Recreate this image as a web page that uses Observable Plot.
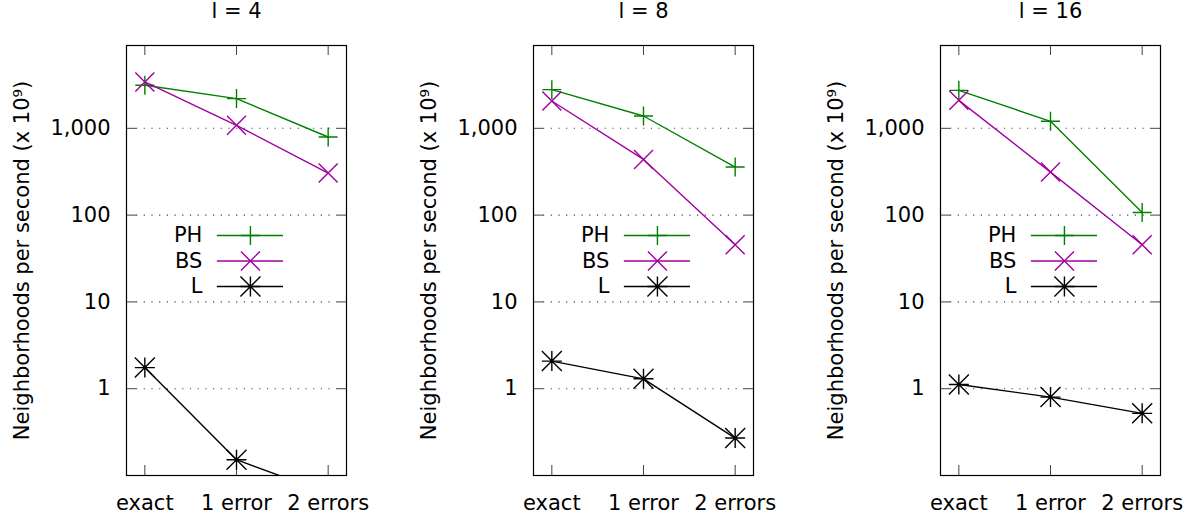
<!DOCTYPE html>
<html><head><meta charset="utf-8">
<script src="https://cdn.jsdelivr.net/npm/d3@7"></script>
<script src="https://cdn.jsdelivr.net/npm/@observablehq/plot@0.6"></script>
<style>
html,body{margin:0;padding:0;background:#fff;overflow:hidden}
#wrap{position:relative;width:1191px;height:518px;overflow:hidden}
#wrap > .panel{position:absolute;top:0}
</style></head><body><div id="wrap"></div>
<script>
const categories = ["exact", "1 error", "2 errors"];
const panelL = [4, 8, 16];
const seriesNames = ["PH", "BS", "L"];
const seriesColors = ["#008000", "#a000a0", "#000000"];
// values per panel (l = 4, 8, 16), per category
const PH = [[3130, 2200, 794], [2790, 1387, 358], [2740, 1205, 107]];
const BS = [[3420, 1083, 305], [2065, 438, 45.5], [2100, 313, 45.5]];
const Lv = [[1.75, 0.152, 0.062], [2.08, 1.30, 0.27], [1.12, 0.80, 0.52]];
const yTicks = [1, 10, 100, 1000];
const yDomain = [0.1, 9000];
const yLabel = "Neighborhoods per second (x 10⁹)";

function sym(fn) { return {draw(ctx, size) { fn(ctx, Math.sqrt(size / Math.PI)); }}; }
const plusSym = sym((c, r) => { c.moveTo(-r, 0); c.lineTo(r, 0); c.moveTo(0, -r); c.lineTo(0, r); });
const timesSym = sym((c, r) => { c.moveTo(-r, -r); c.lineTo(r, r); c.moveTo(-r, r); c.lineTo(r, -r); });
const starSym = sym((c, r) => { c.moveTo(-r, 0); c.lineTo(r, 0); c.moveTo(0, -r); c.lineTo(0, r);
  c.moveTo(-r, -r); c.lineTo(r, r); c.moveTo(-r, r); c.lineTo(r, -r); });
const symbols = [plusSym, timesSym, starSym];
const seriesValues = [PH, BS, Lv];

const legendY = (i) => 10 ** (1.766 - 0.294 * i);
const fmt = d3.format(",");
const wrap = document.getElementById("wrap");
const lefts = [0, 407, 814];

panelL.forEach((l, p) => {
  const rows = [];
  seriesNames.forEach((s, si) => categories.forEach((c, i) => rows.push({series: s, si, x: i, y: seriesValues[si][p][i]})));
  const marks = [
    Plot.ruleY(yTicks, {y: d => d, stroke: "#444", strokeWidth: 1.1, strokeDasharray: "1.2,6.5", insetLeft: 10, insetRight: 10}),
    Plot.tickY(yTicks, {y: d => d, insetRight: 210, stroke: "#444"}),
    Plot.tickY(yTicks, {y: d => d, insetLeft: 210, stroke: "#444"}),
    Plot.tickX([0, 1, 2], {x: d => d, insetTop: 420, stroke: "#444"}),
    Plot.tickX([0, 1, 2], {x: d => d, insetBottom: 420, stroke: "#444"}),
    Plot.axisY({ticks: yTicks, tickSize: 0, tickPadding: 16, tickFormat: fmt, label: yLabel, labelAnchor: "center", labelOffset: 112, labelArrow: "none"}),
    Plot.axisX({ticks: [0, 1, 2], tickSize: 0, tickPadding: 20, tickFormat: i => categories[i], label: null})
  ];
  seriesNames.forEach((s, si) => {
    const data = rows.filter(d => d.si === si);
    marks.push(Plot.line(data, {x: "x", y: "y", stroke: seriesColors[si], strokeWidth: 1.4, clip: true}));
    marks.push(Plot.dot(data, {x: "x", y: "y", symbol: symbols[si], r: si === 2 ? 10 : 9.5, stroke: seriesColors[si], strokeWidth: 1.4, fill: "none", clip: true}));
  });
  // legend
  marks.push(Plot.text(seriesNames, {x: 0.628, y: (d, i) => legendY(i), text: d => d, textAnchor: "end", fill: "black"}));
  seriesNames.forEach((s, si) => {
    marks.push(Plot.ruleY([s], {y: () => legendY(si), x1: 0.791, x2: 1.513, stroke: seriesColors[si], strokeWidth: 1.4}));
    marks.push(Plot.dot([s], {x: 1.152, y: () => legendY(si), symbol: symbols[si], r: si === 2 ? 10 : 9.5, stroke: seriesColors[si], strokeWidth: 1.4, fill: "none"}));
  });
  marks.push(Plot.frame({stroke: "black", strokeWidth: 1.2}));
  marks.push(Plot.text([`l = ${l}`], {frameAnchor: "top", dy: -34, text: d => d, lineAnchor: "middle", fill: "black"}));

  const chart = Plot.plot({
    width: 400, height: 518,
    marginLeft: 126, marginRight: 54, marginTop: 45, marginBottom: 43,
    style: {fontFamily: "'DejaVu Sans', Verdana, sans-serif", fontSize: "21px", background: "white", color: "black", overflow: "visible"},
    x: {type: "linear", domain: [-0.2, 2.2]},
    y: {type: "log", domain: yDomain},
    marks
  });
  chart.classList.add("panel");
  chart.style.position = "absolute";
  chart.style.left = lefts[p] + "px";
  chart.style.top = "0px";
  wrap.appendChild(chart);
});
</script></body></html>
